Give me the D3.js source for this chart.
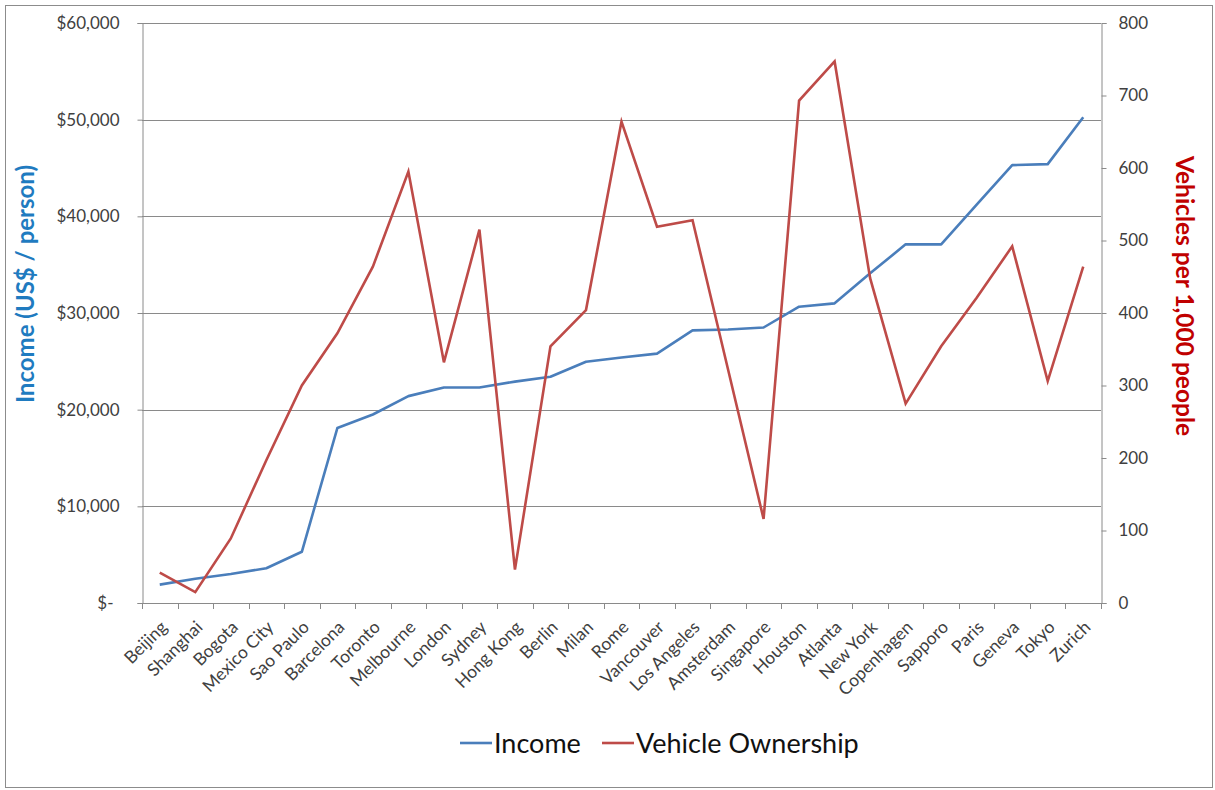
<!DOCTYPE html>
<html>
<head>
<meta charset="utf-8">
<script src="https://cdn.jsdelivr.net/npm/d3@7/dist/d3.min.js"></script>
<style>
  html, body { margin: 0; padding: 0; background: #fff; }
  svg { display: block; font-family: Lato, "Open Sans", sans-serif; }
</style>
</head>
<body>
<svg id="chart" width="1215" height="790"></svg>
<script>
// Cities, ordered by income per person
const cities = ["Beijing", "Shanghai", "Bogota", "Mexico City", "Sao Paulo", "Barcelona", "Toronto",
  "Melbourne", "London", "Sydney", "Hong Kong", "Berlin", "Milan", "Rome", "Vancouver", "Los Angeles",
  "Amsterdam", "Singapore", "Houston", "Atlanta", "New York", "Copenhagen", "Sapporo", "Paris",
  "Geneva", "Tokyo", "Zurich"];

// Income, US$ per person
const income = [1900, 2500, 3000, 3600, 5300, 18100, 19500, 21400, 22300, 22300, 22900, 23400, 24950,
  25400, 25800, 28200, 28300, 28500, 30650, 31000, 34100, 37100, 37100, 41200, 45300, 45400, 50250];

// Vehicles per 1,000 people
const vehicles = [42, 15, 89, 197, 300, 372, 464, 595, 332, 515, 46, 354, 404, 664, 519, 528, 322, 116,
  693, 747, 448, 275, 354, 421, 492, 306, 464];

const incomeTicks = [0, 10000, 20000, 30000, 40000, 50000, 60000];
const vehicleTicks = [0, 100, 200, 300, 400, 500, 600, 700, 800];

const seriesNames = ["Income", "Vehicle Ownership"];
const seriesColors = ["#4a7ebb", "#be4b48"];

const svg = d3.select("#chart");
const m = { left: 142, right: 1101, top: 23, bottom: 603 };

// outer frame
svg.append("rect")
  .attr("x", 5.5).attr("y", 5.5)
  .attr("width", 1207).attr("height", 782)
  .attr("fill", "#fff").attr("stroke", "#8c8c8c").attr("stroke-width", 1);

const x = d3.scaleBand().domain(cities).range([m.left, m.right]).padding(0);
const yL = d3.scaleLinear().domain([0, 60000]).range([m.bottom, m.top]);
const yR = d3.scaleLinear().domain([0, 800]).range([m.bottom, m.top]);
const cx = d => x(d) + x.bandwidth() / 2;

// horizontal gridlines on the income scale
svg.append("g")
  .selectAll("line")
  .data(incomeTicks.filter(t => t > 0))
  .join("line")
  .attr("x1", m.left).attr("x2", m.right)
  .attr("y1", d => Math.round(yL(d)) + 0.5).attr("y2", d => Math.round(yL(d)) + 0.5)
  .attr("stroke", "#8a8a8a").attr("stroke-width", 1);

const tickColor = "#404040";
const fmtMoney = d => d === 0 ? "$-" : "$" + d3.format(",")(d);

// left axis
const gL = svg.append("g")
  .attr("transform", `translate(${m.left + 0.5},0)`)
  .call(d3.axisLeft(yL).tickValues(incomeTicks).tickSize(5).tickPadding(18).tickFormat(fmtMoney));
gL.select(".domain").attr("stroke", "#8a8a8a");
gL.selectAll(".tick line").attr("stroke", "#8a8a8a");
gL.selectAll(".tick text")
  .attr("fill", tickColor).attr("font-size", 17)
  .attr("font-family", "Lato, sans-serif")
  .attr("dx", d => d === 0 ? -6 : 0);

// right axis
const gR = svg.append("g")
  .attr("transform", `translate(${m.right + 0.5},0)`)
  .call(d3.axisRight(yR).tickValues(vehicleTicks).tickSize(5).tickPadding(12).tickFormat(d3.format("d")));
gR.select(".domain").attr("stroke", "#8a8a8a");
gR.selectAll(".tick line").attr("stroke", "#8a8a8a");
gR.selectAll(".tick text")
  .attr("fill", tickColor).attr("font-size", 17)
  .attr("font-family", "Lato, sans-serif");

// category axis: baseline, boundary ticks, rotated labels
const gX = svg.append("g");
gX.append("line")
  .attr("x1", m.left).attr("x2", m.right)
  .attr("y1", m.bottom + 0.5).attr("y2", m.bottom + 0.5)
  .attr("stroke", "#8a8a8a");
const bounds = cities.map(c => x(c)).concat([x.range()[1]]);
gX.selectAll("line.tk")
  .data(bounds)
  .join("line")
  .attr("class", "tk")
  .attr("x1", d => Math.round(d) + 0.5).attr("x2", d => Math.round(d) + 0.5)
  .attr("y1", m.bottom).attr("y2", m.bottom + 6)
  .attr("stroke", "#8a8a8a");
gX.selectAll("text")
  .data(cities)
  .join("text")
  .attr("transform", d => `translate(${cx(d) + 4},${m.bottom + 21}) rotate(-45)`)
  .attr("text-anchor", "end")
  .attr("dy", "0.35em")
  .attr("fill", tickColor)
  .attr("font-size", 17.5)
  .text(d => d);

// series lines
const lineIncome = d3.line().x((d, i) => cx(cities[i])).y(d => yL(d));
const lineVehicles = d3.line().x((d, i) => cx(cities[i])).y(d => yR(d));

svg.append("path")
  .datum(income)
  .attr("d", lineIncome)
  .attr("fill", "none").attr("stroke", seriesColors[0])
  .attr("stroke-width", 2.6).attr("stroke-linejoin", "round");

svg.append("path")
  .datum(vehicles)
  .attr("d", lineVehicles)
  .attr("fill", "none").attr("stroke", seriesColors[1])
  .attr("stroke-width", 2.6).attr("stroke-linejoin", "miter");

// axis titles
svg.append("text")
  .attr("transform", `translate(34,${(160 + 408) / 2}) rotate(-90)`)
  .attr("text-anchor", "middle")
  .attr("fill", "#1f7bc0")
  .attr("font-weight", "bold")
  .attr("font-size", 24)
  .text("Income (US$ / person)");

svg.append("text")
  .attr("transform", `translate(1176,${(155 + 437) / 2}) rotate(90)`)
  .attr("text-anchor", "middle")
  .attr("fill", "#c00000")
  .attr("font-weight", "bold")
  .attr("font-size", 24.5)
  .text("Vehicles per 1,000 people");

// legend
const legend = svg.append("g").attr("transform", "translate(0,743)");
const legendX = [460, 602];
seriesNames.forEach((name, i) => {
  const g = legend.append("g").attr("transform", `translate(${legendX[i]},0)`);
  g.append("line")
    .attr("x1", 0).attr("x2", 32).attr("y1", 0).attr("y2", 0)
    .attr("stroke", seriesColors[i]).attr("stroke-width", 2.6);
  g.append("text")
    .attr("x", 34).attr("y", 0).attr("dy", "0.36em")
    .attr("fill", "#111")
    .attr("font-size", 27)
    .text(name);
});
</script>
</body>
</html>
